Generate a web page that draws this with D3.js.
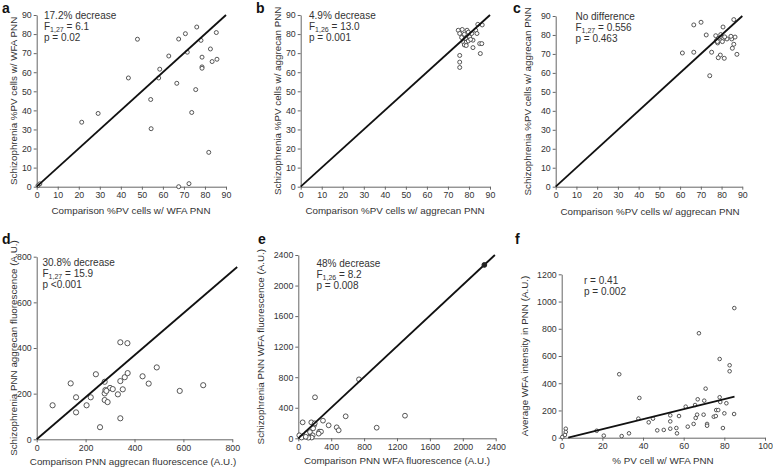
<!DOCTYPE html>
<html><head><meta charset="utf-8">
<script src="https://cdn.jsdelivr.net/npm/d3@7/dist/d3.min.js"></script>
<style>
body{margin:0;background:#fff}
text{font-family:"Liberation Sans",Arial,sans-serif}
</style>
</head><body>
<svg id="chart" width="773" height="469"></svg>
<script>
// ---------- data ----------
const ticksPct = [0,10,20,30,40,50,60,70,80,90];
const ticksD = [0,200,400,600,800];
const ticksE = [0,400,800,1200,1600,2000,2400];
const ticksFx = [0,20,40,60,80,100];
const ticksFy = [0,200,400,600,800,1000,1200];

const panelA = [[0.6,0.6],[1.5,1.5],[21.4,33.8],[29.2,38.4],[43.6,57.0],[47.9,77.3],[54.2,45.7],[54.4,30.4],[58.0,57.0],[58.5,61.6],[62.8,68.5],[66.6,54.2],[67.5,77.4],[67.5,0],[70.7,80.2],[71.6,70.5],[72.4,1.6],[73.7,38.9],[75.6,50.9],[76.1,83.7],[78.1,76.7],[78.6,67.9],[78.6,62.8],[78.6,62.1],[81.8,18.0],[82.6,72.2],[83.4,65.6],[85.4,80.8],[85.7,66.8]];
const panelB = [[74.9,82.0],[76.8,82.4],[79.1,82.0],[75.6,80.3],[77.8,79.9],[79.7,81.0],[83.2,82.0],[81.3,80.3],[76.5,78.2],[78.4,77.8],[80.3,78.5],[83.8,80.3],[77.5,75.7],[78.7,75.7],[79.7,76.4],[81.9,76.8],[77.8,74.3],[78.7,74.0],[81.9,72.9],[85.1,75.0],[86.1,75.0],[85.4,69.8],[75.6,68.8],[75.6,65.3],[75.6,62.5],[84.2,85.1],[86.3,84.8],[80.8,77.2]];
const panelC = [[66.6,85.3],[70.1,86.7],[85.9,88.1],[80.7,84.2],[72.6,80.0],[77.2,79.6],[78.4,78.2],[80.1,78.9],[81.0,78.2],[82.6,77.9],[84.9,77.9],[86.5,78.9],[78.1,75.8],[80.4,76.5],[85.9,75.1],[85.2,73.0],[61.1,70.5],[66.6,70.9],[75.2,70.9],[87.4,69.8],[79.4,69.4],[78.4,68.0],[81.3,67.7],[74.3,58.5],[77.5,77.0],[79.6,80.2],[81.5,79.0],[78.0,76.5],[84.5,79.3]];
const panelD = [[65,149],[139,245],[161,184],[161,118],[204,149],[221,184],[242,285],[259,53],[278,252],[278,201],[281,216],[278,172],[290,163],[300,225],[311,220],[332,197],[342,255],[352,219],[360,272],[372,290],[342,425],[371,421],[342,92],[433,276],[458,244],[491,315],[585,212],[681,237],[285,212]];
const panelE = [[738,772],[203,537],[53,209],[158,209],[191,170],[300,231],[369,170],[467,144],[491,105],[576,288],[255,87],[276,87],[248,61],[953,139],[1297,296],[12,39],[61,30],[102,65],[142,82],[175,39],[150,15],[163,10],[122,8],[40,10],[200,196],[180,130],[90,20]];
const panelEFilled = [[2262,2270]];
const panelF = [[0.3,5],[2.0,66],[2.0,42],[1.6,20],[17.2,51],[20.7,15],[28.3,466],[29.5,12],[33.1,32],[38.2,292],[37.7,140],[42.8,113],[44.9,140],[47.0,54],[50.2,57],[53.4,66],[53.4,120],[53.4,164],[57.7,159],[56.4,71],[56.7,32],[61,228],[62,81],[64.9,101],[65.9,145],[66.6,169],[66.9,282],[67.5,767],[65.6,240],[69.8,169],[70.1,272],[70.8,360],[71.5,101],[71.5,88],[74.8,154],[75.8,159],[76.0,203],[77.0,203],[77.7,297],[78.0,262],[77.7,578],[79.3,71],[80.0,179],[81.0,253],[82.6,532],[82.6,488],[84.9,952],[84.8,174]];

const lineA = [[0,0],[90,90]];
const lineB = [[0,0],[90,90]];
const lineC = [[0,0],[90,90]];
const lineD = [[0,0],[820,755]];
const lineE = [[0,0],[2390,2400]];
const lineF = [[3.2,0],[85,301]];

const notesA = ["17.2% decrease", ["F","1,27"," = 6.1"], "p = 0.02"];
const notesB = ["4.9% decrease", ["F","1,26"," = 13.0"], "p = 0.001"];
const notesC = ["No difference", ["F","1,27"," = 0.556"], "p = 0.463"];
const notesD = ["30.8% decrease", ["F","1,27"," = 15.9"], "p <0.001"];
const notesE = ["48% decrease", ["F","1,26"," = 8.2"], "p = 0.008"];
const notesF = ["r = 0.41", "p = 0.002"];

// ---------- layout ----------
const panels = [
 {letter:"a", lp:[2,13], data:panelA, line:lineA, xd:[0,90], yd:[0,90], xr:[36.7,226], yr:[186.7,15], xt:ticksPct, yt:ticksPct, r:2,
  xl:"Comparison %PV cells w/ WFA PNN", xlp:[131,214], yl:"Schizophrenia %PV cells w/ WFA PNN", ylx:14, notes:notesA, np:[44,18.5]},
 {letter:"b", lp:[256,13], data:panelB, line:lineB, xd:[0,90], yd:[0,90], xr:[300.7,490], yr:[186.7,15], xt:ticksPct, yt:ticksPct, r:2,
  xl:"Comparison %PV cells w/ aggrecan PNN", xlp:[395,214], yl:"Schizophrenia %PV cells w/ aggrecan PNN", ylx:278, notes:notesB, np:[309,18.5]},
 {letter:"c", lp:[513,13], data:panelC, line:lineC, xd:[0,90], yd:[0,90], xr:[555.7,742.3], yr:[186.7,16], xt:ticksPct, yt:ticksPct, r:2,
  xl:"Comparison %PV cells w/ aggrecan PNN", xlp:[650,215], yl:"Schizophrenia %PV cells w/ aggrecan PNN", ylx:528, notes:notesC, np:[575.5,20]},
 {letter:"d", lp:[2,244], data:panelD, line:lineD, xd:[0,800], yd:[0,800], xr:[36.7,232.3], yr:[439.3,256.7], xt:ticksD, yt:ticksD, r:2.6,
  xl:"Comparison PNN aggrecan fluorescence (A.U.)", xlp:[133,465], yl:"Schizophrenia PNN aggrecan fluorescence (A.U.)", ylx:14, notes:notesD, np:[42.5,266]},
 {letter:"e", lp:[258,244], data:panelE, line:lineE, xd:[0,2400], yd:[0,2400], xr:[298.3,495.7], yr:[438.3,255], xt:ticksE, yt:ticksE, r:2.4,
  xl:"Comparison PNN WFA fluorescence (A.U.)", xlp:[397,464], yl:"Schizophrenia PNN WFA fluorescence (A.U.)", ylx:261, notes:notesE, np:[316.5,267], filled:panelEFilled},
 {letter:"f", lp:[515,244], data:panelF, line:lineF, xd:[0,100], yd:[0,1200], xr:[561.7,765], yr:[437.7,274.3], xt:ticksFx, yt:ticksFy, r:1.8,
  xl:"% PV cell w/ WFA PNN", xlp:[663,464], yl:"Average WFA intensity in PNN (A.U.)", ylx:525, notes:notesF, np:[584,284]}
];

const svg = d3.select("#chart");
const textCol = "#333", axisCol = "#666";
const fmt = d3.format("d");

panels.forEach(p => {
  const g = svg.append("g");
  const x = d3.scaleLinear().domain(p.xd).range(p.xr);
  const y = d3.scaleLinear().domain(p.yd).range(p.yr);

  const xa = g.append("g").attr("transform",`translate(0,${p.yr[0]})`)
    .call(d3.axisBottom(x).tickValues(p.xt).tickFormat(fmt).tickSize(3).tickSizeOuter(0).tickPadding(2));
  const ya = g.append("g").attr("transform",`translate(${p.xr[0]},0)`)
    .call(d3.axisLeft(y).tickValues(p.yt).tickFormat(fmt).tickSize(3).tickSizeOuter(0).tickPadding(2));
  [xa,ya].forEach(a=>{
    a.select(".domain").attr("stroke",axisCol).attr("stroke-width",1);
    a.selectAll(".tick line").attr("stroke",axisCol);
    a.selectAll(".tick text").attr("fill",textCol).style("font-size","8.8px").style("font-family",'"Liberation Sans",Arial,sans-serif');
  });

  // points
  g.selectAll("circle.pt").data(p.data).join("circle").attr("class","pt")
    .attr("cx",d=>x(d[0])).attr("cy",d=>y(d[1])).attr("r",p.r)
    .attr("fill","#fff").attr("stroke","#444").attr("stroke-width",0.9);

  // line
  g.append("path").datum(p.line)
    .attr("d", d3.line().x(d=>x(d[0])).y(d=>y(d[1])))
    .attr("stroke","#111").attr("stroke-width",1.8).attr("fill","none");

  if (p.filled) {
    g.selectAll("circle.fl").data(p.filled).join("circle").attr("class","fl")
      .attr("cx",d=>x(d[0])).attr("cy",d=>y(d[1])).attr("r",p.r)
      .attr("fill","#222").attr("stroke","#222");
  }

  // labels
  g.append("text").attr("x",p.lp[0]).attr("y",p.lp[1]).text(p.letter)
    .style("font-size","14px").style("font-weight","bold").attr("fill","#111");
  g.append("text").attr("x",p.xlp[0]).attr("y",p.xlp[1]).attr("text-anchor","middle")
    .text(p.xl).style("font-size","9.8px").attr("fill",textCol);
  const yc = (p.yr[0]+p.yr[1])/2;
  g.append("text").attr("transform",`translate(${p.ylx},${yc}) rotate(-90)`)
    .attr("text-anchor","middle").attr("dy","0.35em")
    .text(p.yl).style("font-size","9.8px").attr("fill",textCol);

  // notes
  p.notes.forEach((n,i)=>{
    const t = g.append("text").attr("x",p.np[0]).attr("y",p.np[1]+i*11.2)
      .style("font-size","10px").attr("fill",textCol);
    if (Array.isArray(n)) {
      t.append("tspan").text(n[0]);
      t.append("tspan").text(n[1]).attr("dy",1.8).style("font-size","7px");
      t.append("tspan").text(n[2]).attr("dy",-1.8);
    } else t.text(n);
  });
});
</script>
</body></html>
